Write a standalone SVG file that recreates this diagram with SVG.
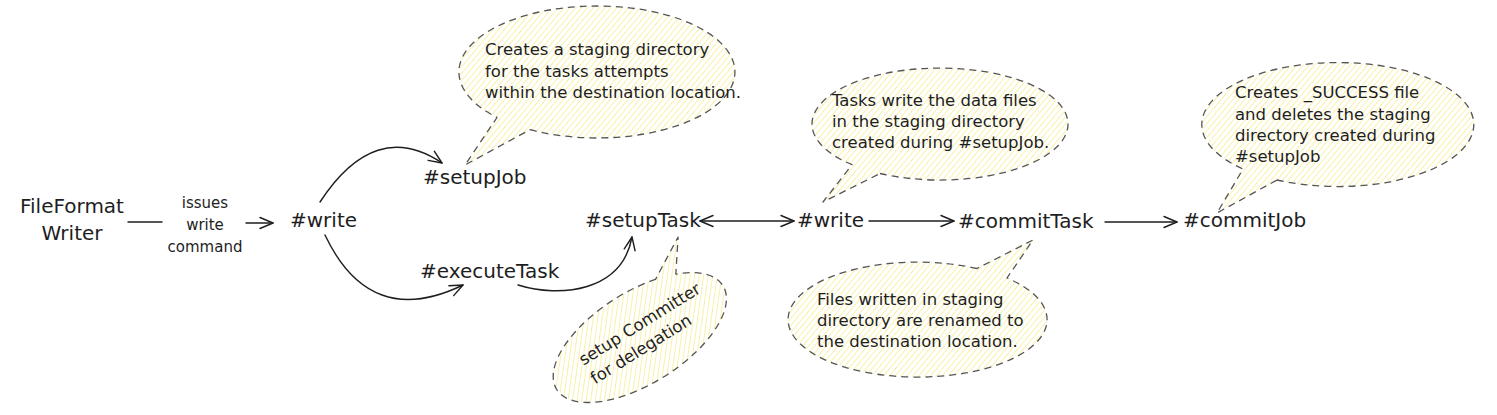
<svg xmlns="http://www.w3.org/2000/svg" width="1497" height="415" viewBox="0 0 1497 415">
<style>
  .node { font-family: "DejaVu Sans", "Liberation Sans", sans-serif; font-size: 20px; fill: #1e1e1e; }
  .lbl { font-family: "DejaVu Sans", "Liberation Sans", sans-serif; font-size: 15px; fill: #1e1e1e; text-anchor: middle; }
  .note { font-family: "DejaVu Sans", "Liberation Sans", sans-serif; font-size: 16.5px; fill: #1e1e1e; }
  .bubble { fill: url(#hatch); stroke: #555; stroke-width: 1.3; stroke-dasharray: 7 5; stroke-linejoin: round; }
  .conn { fill: none; stroke: #1e1e1e; stroke-width: 1.4; stroke-linecap: round; }
  .arrow { marker-end: url(#ah); }
</style>
<defs>
  <pattern id="hatch" patternUnits="userSpaceOnUse" width="4.5" height="4.5" patternTransform="rotate(40)">
    <rect width="4.5" height="4.5" fill="#ffffff"/>
    <line x1="0" y1="0" x2="0" y2="4.5" stroke="#f9f09a" stroke-width="1.7"/>
  </pattern>
  <marker id="ah" markerUnits="userSpaceOnUse" markerWidth="20" markerHeight="16" refX="14" refY="8" orient="auto">
    <path d="M 1 2.5 L 14 8 L 1 13.5" fill="none" stroke="#1e1e1e" stroke-width="1.4" stroke-linecap="round" stroke-linejoin="round"/>
  </marker>
  <marker id="ahs" markerUnits="userSpaceOnUse" markerWidth="20" markerHeight="16" refX="6" refY="8" orient="auto">
    <path d="M 19 2.5 L 6 8 L 19 13.5" fill="none" stroke="#1e1e1e" stroke-width="1.4" stroke-linecap="round" stroke-linejoin="round"/>
  </marker>
</defs>
<rect width="1497" height="415" fill="#ffffff"/>

<g id="connectors">
  <line class="conn" x1="128" y1="222" x2="162" y2="222"/>
  <line class="conn arrow" x1="246" y1="223" x2="273" y2="223"/>
  <text class="lbl" x="205" y="208">issues</text>
  <text class="lbl" x="205" y="230">write</text>
  <text class="lbl" x="205" y="252">command</text>
  <path class="conn arrow" d="M 320 202 Q 375 118 442 163"/>
  <path class="conn arrow" d="M 325 235 Q 370 330 463 285"/>
  <path class="conn arrow" d="M 518 285 C 560 298 622 292 632 237"/>
  <line class="conn arrow" x1="700" y1="221" x2="794" y2="221" marker-start="url(#ahs)"/>
  <line class="conn arrow" x1="869" y1="221" x2="954" y2="221"/>
  <line class="conn arrow" x1="1105" y1="222" x2="1177" y2="222"/>
</g>

<g id="node-fileformatwriter">
  <text class="node" x="72" y="213" text-anchor="middle">FileFormat</text>
  <text class="node" x="72" y="240" text-anchor="middle">Writer</text>
</g>
<g id="node-write1"><text class="node" x="290" y="227">#write</text></g>
<g id="node-setupjob"><text class="node" x="423" y="184">#setupJob</text></g>
<g id="node-executetask"><text class="node" x="420" y="278">#executeTask</text></g>
<g id="node-setuptask"><text class="node" x="585" y="227">#setupTask</text></g>
<g id="node-write2"><text class="node" x="797" y="227">#write</text></g>
<g id="node-committask"><text class="node" x="958" y="228">#commitTask</text></g>
<g id="node-commitjob"><text class="node" x="1183" y="227">#commitJob</text></g>

<g id="note-setupjob">
  <path class="bubble" d="M 530 129.7 A 138 66 0 1 0 497 117.5 L 465 165 Z"/>
  <text class="note" x="485" y="55">Creates a staging directory</text>
  <text class="note" x="485" y="77">for the tasks attempts</text>
  <text class="note" x="485" y="98">within the destination location.</text>
</g>

<g id="note-setuptask">
  <g transform="translate(640,337.5) rotate(-32)">
    <path class="bubble" d="M 44 -41.1 A 98 46 0 1 0 64 -34.8 L 85.5 -65 Z"/>
    <text class="note" x="-63" y="-6">setup Committer</text>
    <text class="note" x="-63" y="16">for delegation</text>
  </g>
</g>

<g id="note-write">
  <path class="bubble" d="M 880 173.5 A 128 56 0 1 0 852 164.7 L 823 202 Z"/>
  <text class="note" x="832" y="106">Tasks write the data files</text>
  <text class="note" x="832" y="127">in the staging directory</text>
  <text class="note" x="832" y="148">created during #setupJob.</text>
</g>

<g id="note-committask">
  <path class="bubble" d="M 977 268.5 A 129.5 57.5 0 1 0 1007 278 L 1033 240 Z"/>
  <text class="note" x="817" y="305">Files written in staging</text>
  <text class="note" x="817" y="326">directory are renamed to</text>
  <text class="note" x="817" y="347">the destination location.</text>
</g>

<g id="note-commitjob">
  <path class="bubble" d="M 1277 180 A 136 62 0 1 0 1243 169 L 1217 213 Z"/>
  <text class="note" x="1235" y="98">Creates _SUCCESS file</text>
  <text class="note" x="1235" y="120">and deletes the staging</text>
  <text class="note" x="1235" y="141">directory created during</text>
  <text class="note" x="1235" y="162">#setupJob</text>
</g>
</svg>
